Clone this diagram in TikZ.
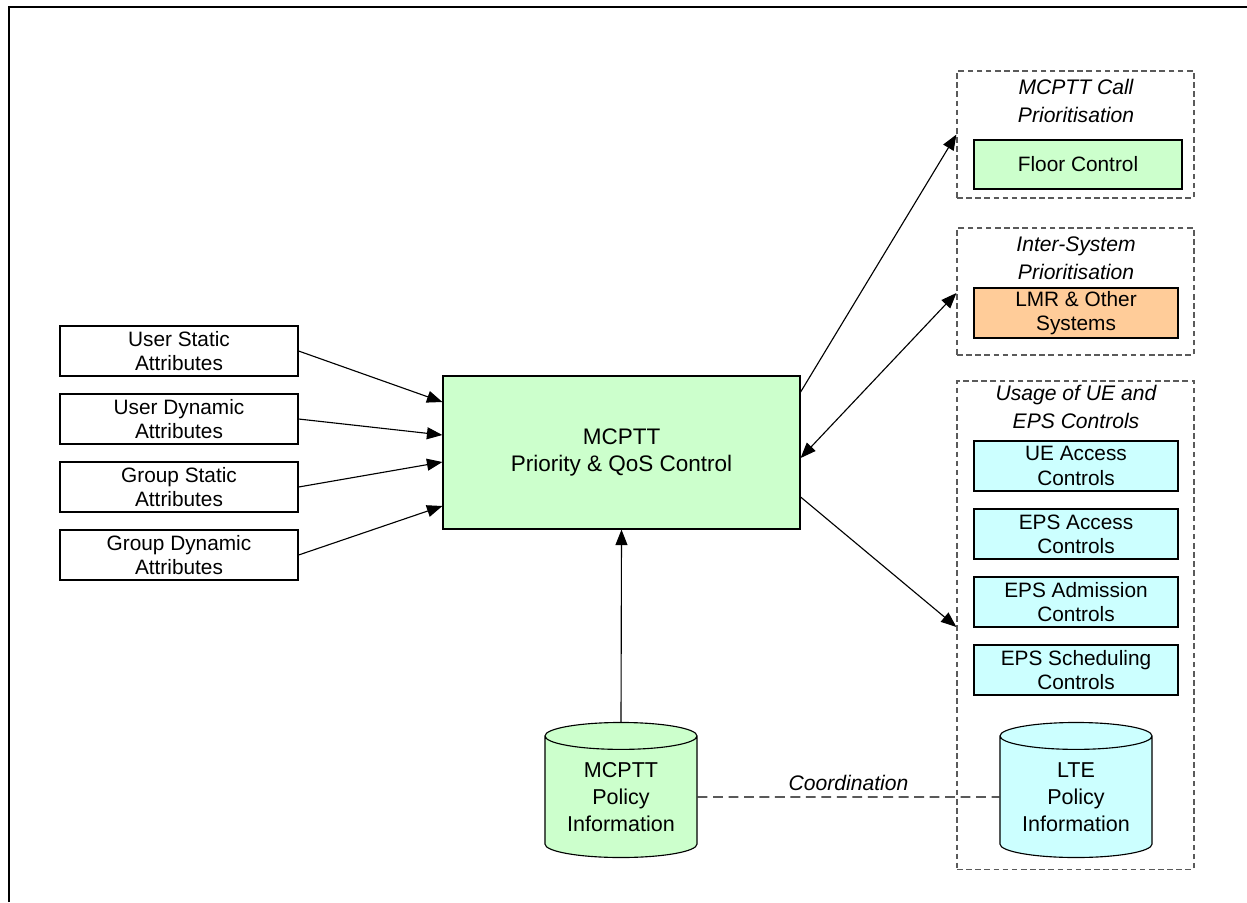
\documentclass[tikz,border=0pt]{standalone}
\usepackage{fontspec}
\setmainfont{Liberation Sans}
\definecolor{PaleGreen}{HTML}{CCFFCC}
\definecolor{PaleOrange}{HTML}{FFCC99}
\definecolor{PaleCyan}{HTML}{CCFFFF}
\definecolor{FrameGray}{HTML}{5A5A5A}
\usetikzlibrary{arrows.meta, calc, shapes.geometric}
\tikzset{
	attrbox/.style={draw, fill=white, line width=0.8pt, minimum width=5.95cm, minimum height=1.25cm,
		align=center, inner sep=0pt, font=\fontsize{14.8}{17.3}\selectfont},
	ctrlbox/.style={draw, line width=0.8pt, minimum width=5.1cm, minimum height=1.25cm,
		align=center, inner sep=0pt, font=\fontsize{14.8}{17.3}\selectfont},
	grpbox/.style={draw=FrameGray, dash pattern=on 4pt off 2.5pt, line width=0.8pt, minimum width=5.925cm, inner sep=0pt},
	grptitle/.style={align=center, font=\fontsize{15}{19.9}\selectfont\itshape},
	policy/.style={draw, line width=0.8pt, shape=cylinder, shape border rotate=90, aspect=0.25,
		minimum width=3.8cm, minimum height=3.375cm, align=center, inner sep=0pt,
		font=\fontsize{15.3}{19.2}\selectfont},
	link/.style={line width=0.8pt, -{Triangle[length=11pt, width=8.5pt]}}
}

\begin{document}
\begin{tikzpicture}[x=0.025cm, y=-0.025cm]
		\useasboundingbox (0,0) rectangle (1247,902);
		
		\draw[line width=1pt] (9,902) -- (9,7) -- (1247,7);
		
		% attribute inputs
		\node[attrbox] (usta) at (179,351) {User Static\\Attributes};
		\node[attrbox] (udyn) at (179,419) {User Dynamic\\Attributes};
		\node[attrbox] (gsta) at (179,487) {Group Static\\Attributes};
		\node[attrbox] (gdyn) at (179,555) {Group Dynamic\\Attributes};
		
		\node[draw, fill=PaleGreen, line width=0.8pt, minimum width=8.925cm, minimum height=3.825cm,
			align=center, font=\fontsize{16}{19.2}\selectfont] (qos) at (621.5,452.5) {MCPTT\\Priority \& QoS Control};
		
		% groups on the right
		\node[grpbox, minimum height=3.175cm] (callgrp) at (1075.5,134.5) {};
		\node[grpbox, minimum height=3.175cm] (sysgrp) at (1075.5,291.5) {};
		\node[grpbox, minimum height=12.2cm] (epsgrp) at (1075.5,625) {};
		
		\node[grptitle] (calltitle) at (1076,101) {MCPTT Call\\Prioritisation};
		\node[grptitle] (systitle) at (1076,258) {Inter-System\\Prioritisation};
		\node[grptitle] (epstitle) at (1076,407) {Usage of UE and\\EPS Controls};
		
		\node[ctrlbox, fill=PaleGreen, minimum width=5.2cm, minimum height=1.225cm] (floor) at (1078,164.5) {Floor Control};
		\node[ctrlbox, fill=PaleOrange] (lmr) at (1076,313) {LMR \& Other\\Systems};
		
		\node[ctrlbox, fill=PaleCyan] (ueacc) at (1076,466) {UE Access\\Controls};
		\node[ctrlbox, fill=PaleCyan] (epsacc) at (1076,534) {EPS Access\\Controls};
		\node[ctrlbox, fill=PaleCyan] (epsadm) at (1076,602) {EPS Admission\\Controls};
		\node[ctrlbox, fill=PaleCyan] (epssch) at (1076,670) {EPS Scheduling\\Controls};
		
		% policy stores
		\node[policy, fill=PaleGreen] (mpol) at (621,797) {MCPTT\\Policy\\Information};
		\node[policy, fill=PaleCyan] (lpol) at (1076,797) {LTE\\Policy\\Information};
		
		\draw[link] (usta.east) -- ($(qos.west)+(0,-50.5)$);
		\draw[link] (udyn.east) -- ($(qos.west)+(0,-17.5)$);
		\draw[link] (gsta.east) -- ($(qos.west)+(0,9.5)$);
		\draw[link] (gdyn.east) -- ($(qos.west)+(0,53.5)$);
		
		\draw[link] ($(qos.east)+(0,-60.5)$) -- (callgrp.west);
		\draw[link, {Triangle[length=11pt, width=8.5pt]}-{Triangle[length=11pt, width=8.5pt]}] ($(qos.east)+(0,5.5)$) -- ($(sysgrp.west)+(0,1.5)$);
		\draw[link] ($(qos.east)+(0,44.5)$) -- ($(epsgrp.west)+(0,2)$);
		
		\draw[link] (mpol.top) -- (qos.south);
		
		\draw[dash pattern=on 7pt off 4pt, line width=0.8pt] (mpol.east) -- (lpol.west)
			node [midway, above=1pt, font=\fontsize{15}{18}\selectfont\itshape] (coord) {Coordination};
	\end{tikzpicture}
\end{document}
